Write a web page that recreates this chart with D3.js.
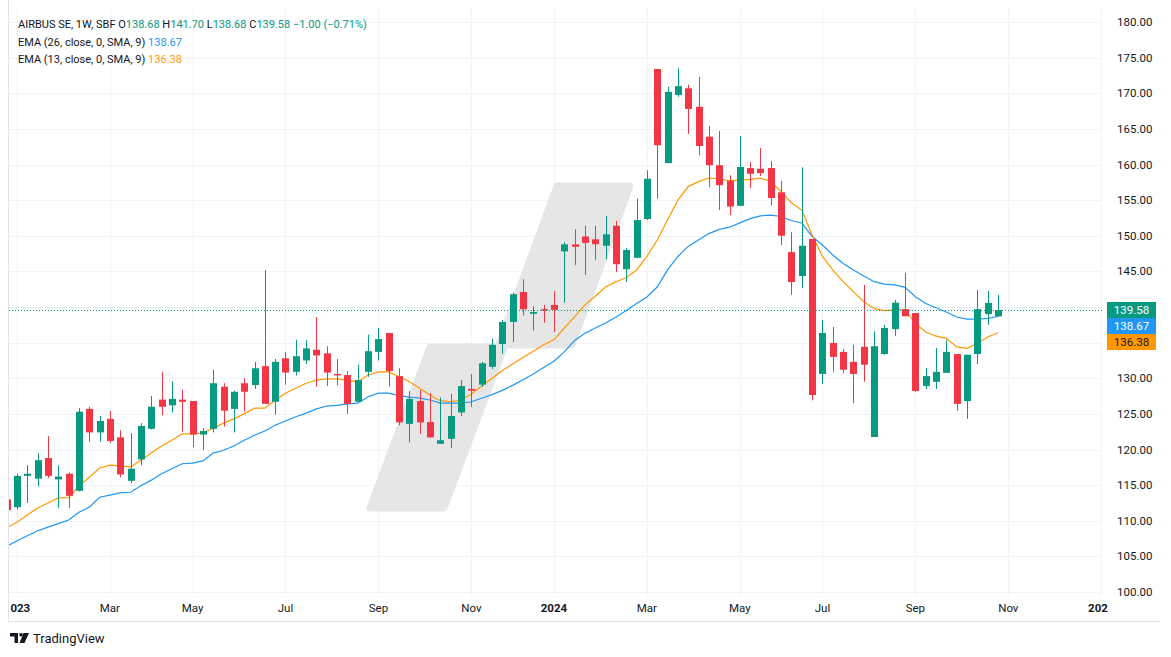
<!DOCTYPE html>
<html>
<head>
<meta charset="utf-8">
<title>AIRBUS SE, 1W</title>
<style>
  body { margin: 0; background: #fff; }
  svg text { font-family: Roboto, "Liberation Sans", sans-serif; fill: #131722; }
</style>
<script src="https://cdn.jsdelivr.net/npm/d3@7/dist/d3.min.js"></script>
</head>
<body>
<svg id="chart" width="1171" height="657"></svg>
<script>
// weekly candles, first bar = week of 26 Dec 2022
var opens  = [113.0,111.9,116.3,115.9,118.8,115.8,116.6,114.2,125.7,122.4,124.3,121.7,115.6,118.6,122.9,127.0,126.2,127.0,126.8,122.1,
              122.9,128.8,125.7,129.3,129.05,131.7,126.7,132.8,130.9,132.5,134.0,133.5,130.6,130.45,126.7,130.9,133.7,136.35,130.3,123.6,
              126.8,123.85,120.8,121.5,125.2,128.5,129.1,131.6,134.8,137.9,142.1,139.05,139.7,140.3,147.8,148.8,149.9,149.5,148.6,151.4,
              145.3,146.9,152.35,173.4,160.2,169.75,170.7,168.1,163.9,159.9,157.7,154.2,159.5,159.4,159.5,156.1,147.7,144.35,149.55,130.6,
              134.95,133.7,132.3,134.4,121.75,133.4,136.9,139.7,139.15,128.9,129.5,130.75,133.4,126.8,133.4,139.0,138.68];
var highs  = [113.2,116.6,117.8,119.5,121.9,117.8,116.8,125.8,126.0,124.7,125.4,122.7,122.3,123.7,127.5,130.9,129.6,128.4,126.8,123.0,
              131.2,129.3,128.25,130.0,132.3,145.2,132.7,133.7,135.4,135.4,138.6,134.5,132.7,131.0,131.9,136.1,137.05,136.35,131.4,128.2,
              128.35,127.9,127.3,127.8,129.75,130.6,132.3,135.5,138.2,142.0,143.9,140.1,140.3,142.25,149.1,150.9,151.4,151.4,152.8,152.1,
              148.3,155.2,159.2,173.4,170.9,173.5,171.2,172.3,165.4,164.7,158.5,164.0,160.35,162.3,160.5,157.7,150.5,159.6,149.55,138.2,
              137.2,134.1,134.7,143.1,136.6,137.5,141.0,144.8,139.15,131.4,134.25,135.4,133.4,133.3,142.4,142.25,141.70];
var lows   = [111.0,111.6,112.5,114.8,116.0,111.75,111.8,114.1,121.1,121.1,120.9,116.1,115.3,117.8,122.8,124.8,125.2,122.5,120.3,119.9,
              122.4,123.2,122.4,125.3,128.5,126.4,124.9,129.1,130.4,132.0,128.8,128.9,129.0,125.0,126.7,130.2,132.5,128.8,123.4,121.0,
              122.2,121.7,120.8,120.2,124.7,126.0,128.8,131.3,133.4,135.1,138.8,136.7,137.8,136.5,140.6,145.9,144.5,146.6,146.7,144.9,
              143.5,146.9,152.2,155.2,160.2,169.5,164.3,161.3,156.8,153.6,152.9,154.2,156.7,158.4,154.3,148.7,141.7,142.7,126.9,129.2,
              130.9,130.7,126.5,129.5,121.75,133.3,135.9,138.7,128.1,128.5,128.5,130.75,125.4,124.3,132.0,137.5,138.68];
var closes = [111.5,116.3,116.6,118.5,116.3,116.2,113.5,125.3,122.4,124.0,121.2,116.5,117.3,123.3,126.0,126.0,127.1,126.7,122.1,122.6,
              129.3,125.45,128.1,128.1,131.4,126.4,132.3,130.8,133.1,134.2,133.2,130.8,130.4,126.4,129.75,133.8,135.5,131.0,123.8,127.1,
              123.8,121.7,121.3,124.7,128.9,128.25,132.1,134.7,137.9,141.8,139.7,139.3,139.5,139.6,148.8,148.45,149.0,148.8,150.2,146.0,
              148.0,152.2,158.0,162.7,170.2,171.0,167.8,162.6,159.9,157.1,154.1,159.65,158.7,158.8,155.3,150.0,143.5,148.6,127.65,136.35,
              133.0,131.2,130.6,131.9,134.5,137.05,140.6,138.7,128.2,130.3,130.9,133.7,126.4,133.3,139.7,140.58,139.58];

// indicator lines
var ema26 = [106.4,107.2,107.9,108.6,109.1,109.6,110.1,111.2,111.9,113.3,113.6,113.9,114.0,114.9,115.7,116.6,117.3,118.0,118.1,118.4,
             119.5,119.9,120.5,121.3,122.0,122.6,123.4,124.0,124.6,125.1,125.7,126.1,126.2,126.4,126.5,127.4,127.9,127.9,127.55,127.35,
             127.2,126.95,126.5,126.5,126.5,126.7,127.2,127.7,128.3,129.0,129.8,130.6,131.5,132.4,133.7,135.3,136.3,137.05,137.75,138.6,
             139.5,140.5,141.4,142.8,145.2,147.1,148.5,149.4,150.3,150.9,151.2,151.8,152.4,152.8,152.9,152.7,152.1,151.8,149.9,148.7,
             147.3,146.1,145.2,144.35,143.55,143.2,143.1,142.75,141.45,140.5,139.9,139.3,138.6,138.3,138.3,138.4,138.67];
var ema13 = [109.0,109.8,110.8,111.8,112.5,113.2,113.25,114.9,116.1,117.4,117.8,117.7,117.55,118.5,119.5,120.5,121.3,122.2,122.2,122.3,
             123.0,123.7,124.3,125.0,125.8,125.8,126.9,127.9,128.6,129.3,129.75,129.9,129.9,129.7,129.5,130.45,130.9,130.9,130.2,129.5,
             128.6,127.6,126.85,126.7,126.95,127.8,128.9,130.0,131.1,132.0,132.9,133.8,134.7,135.4,137.05,138.6,140.3,141.5,142.8,143.55,
             144.1,145.2,147.1,149.4,152.2,155.0,156.9,157.6,158.1,158.0,157.7,157.8,157.9,158.1,157.6,156.2,154.6,153.6,150.1,147.1,
             145.2,143.55,142.15,140.75,139.8,139.5,139.6,139.6,137.7,136.5,135.9,135.6,134.4,134.2,134.9,135.8,136.38];

var priceTicks = [100,105,110,115,120,125,130,135,140,145,150,155,160,165,170,175,180];
var timeTicks  = ["2023-01-02","2023-03-06","2023-05-01","2023-07-03","2023-09-04","2023-11-06",
                  "2024-01-01","2024-03-04","2024-05-06","2024-07-01","2024-09-02","2024-11-04","2025-01-06"];
var timeLabels = ["2023","Mar","May","Jul","Sep","Nov","2024","Mar","May","Jul","Sep","Nov","2025"];

var up = "#089981", down = "#F23645", blue = "#2196F3", orange = "#FF9800";

var svg = d3.select("#chart");
var plot = {left: 9, right: 1102, top: 8, bottom: 596};

var parse = d3.timeParse("%Y-%m-%d");
var weeks = d3.timeMonday.range(parse("2022-12-26"), parse("2024-10-29"));

var x = d3.scaleTime()
	.domain([parse("2023-01-02"), parse("2024-10-28")])
	.range([17, 998]);
var y = d3.scaleLinear().domain([100, 180]).range([592, 22]);

var defs = svg.append("defs");
defs.append("clipPath").attr("id", "plotclip")
	.append("rect")
		.attr("x", plot.left).attr("y", plot.top)
		.attr("width", plot.right - plot.left).attr("height", plot.bottom - plot.top);

// grid
var grid = svg.append("g").attr("clip-path", "url(#plotclip)");
grid.selectAll(".hg").data(priceTicks).enter().append("line")
	.attr("x1", plot.left).attr("x2", plot.right)
	.attr("y1", function(d) { return Math.round(y(d)) + 0.5; })
	.attr("y2", function(d) { return Math.round(y(d)) + 0.5; })
	.attr("stroke", "#f0f3fa");
grid.selectAll(".vg").data(timeTicks).enter().append("line")
	.attr("x1", function(d) { return Math.round(x(parse(d))) + 0.5; })
	.attr("x2", function(d) { return Math.round(x(parse(d))) + 0.5; })
	.attr("y1", plot.top).attr("y2", plot.bottom)
	.attr("stroke", "#f0f3fa");

// watermark shape
grid.append("path")
	.attr("d", "M370,508 L430,347 L498,347 L557,186 L630,186 L572,345 L505,345 L444,508 Z")
	.attr("fill", "#e6e6e6")
	.attr("stroke", "#e6e6e6").attr("stroke-width", 7).attr("stroke-linejoin", "round");

var g = svg.append("g").attr("clip-path", "url(#plotclip)");

// EMA lines
var line = function(vals) {
	return d3.line()
		.x(function(d, i) { return x(weeks[i]); })
		.y(function(d) { return y(d); })(vals);
};
g.append("path").attr("d", line(ema26)).attr("fill", "none").attr("stroke", blue).attr("stroke-width", 1.2);
g.append("path").attr("d", line(ema13)).attr("fill", "none").attr("stroke", orange).attr("stroke-width", 1.2);

// candles
var candles = g.selectAll(".c").data(weeks).enter().append("g");
candles.append("line")
	.attr("x1", function(d) { return Math.round(x(d)) + 0.5; })
	.attr("x2", function(d) { return Math.round(x(d)) + 0.5; })
	.attr("y1", function(d, i) { return y(highs[i]); })
	.attr("y2", function(d, i) { return y(lows[i]); })
	.attr("stroke", function(d, i) { return closes[i] >= opens[i] ? up : down; });
candles.append("rect")
	.attr("x", function(d) { return Math.round(x(d)) - 3; })
	.attr("width", 7)
	.attr("y", function(d, i) { return y(Math.max(opens[i], closes[i])); })
	.attr("height", function(d, i) { return Math.max(1, Math.abs(y(opens[i]) - y(closes[i]))); })
	.attr("fill", function(d, i) { return closes[i] >= opens[i] ? up : down; });

// last price dotted line
var n = closes.length - 1;
var last = closes[n];
g.append("line")
	.attr("x1", plot.left).attr("x2", plot.right)
	.attr("y1", Math.round(y(last)) + 0.5).attr("y2", Math.round(y(last)) + 0.5)
	.attr("stroke", up).attr("stroke-dasharray", "1,2");

// last value tags (stacked so they do not overlap)
var tags = [[last, up, "#fff"], [ema26[n], blue, "#fff"], [ema13[n], orange, "#131722"]];
var tagY = -100, tagTop = null, tagBottom = null;
tags.forEach(function(t) {
	t.y = Math.max(Math.round(y(t[0])) - 8, tagY);
	tagY = t.y + 16;
	if (tagTop === null) tagTop = t.y;
	tagBottom = tagY;
});

// price axis, labels hidden where the tags sit
svg.selectAll(".pl").data(priceTicks.filter(function(d) {
		var py = y(d);
		return py < tagTop - 7 || py > tagBottom + 7;
	})).enter().append("text")
	.attr("x", 1117).attr("y", function(d) { return y(d); })
	.attr("dy", "0.35em")
	.style("font-size", "11.5px")
	.text(function(d) { return d3.format(".2f")(d); });

tags.forEach(function(t) {
	svg.append("rect").attr("x", 1107).attr("y", t.y).attr("width", 49).attr("height", 16).attr("fill", t[1]);
	svg.append("text").attr("x", 1131.5).attr("y", t.y + 8).attr("dy", "0.35em")
		.attr("text-anchor", "middle").style("font-size", "11.5px").style("fill", t[2])
		.text(d3.format(".2f")(t[0]));
});

// time axis
defs.append("clipPath").attr("id", "xclip")
	.append("rect").attr("x", plot.left + 1).attr("y", 596).attr("width", plot.right - plot.left + 5).attr("height", 24);
svg.append("g").attr("clip-path", "url(#xclip)")
	.selectAll(".tl").data(timeTicks).enter().append("text")
	.attr("x", function(d) { return x(parse(d)); })
	.attr("y", 612)
	.attr("text-anchor", "middle")
	.style("font-size", "11.5px")
	.style("font-weight", function(d, i) { return /^\d/.test(timeLabels[i]) ? "bold" : "normal"; })
	.text(function(d, i) { return timeLabels[i]; });

// legend
var lg = svg.append("g").style("font-size", "11px");
var l1 = lg.append("text").attr("x", 18).attr("y", 28).attr("xml:space", "preserve");
var chg = closes[n] - closes[n - 1];
var parts = [["AIRBUS SE, 1W, SBF O", "#131722"], [d3.format(".2f")(opens[n]), up], [" H", "#131722"], [d3.format(".2f")(highs[n]), up],
	[" L", "#131722"], [d3.format(".2f")(lows[n]), up], [" C", "#131722"], [d3.format(".2f")(closes[n]), up],
	[" " + d3.format(".2f")(chg).replace("-", "\u2212") + " (" + d3.format(".2f")(chg / closes[n - 1] * 100).replace("-", "\u2212") + "%)", up]];
parts.forEach(function(p) { l1.append("tspan").style("fill", p[1]).text(p[0]); });
var l2 = lg.append("text").attr("x", 18).attr("y", 46).attr("xml:space", "preserve");
l2.append("tspan").text("EMA (26, close, 0, SMA, 9) ");
l2.append("tspan").style("fill", blue).text(d3.format(".2f")(ema26[n]));
var l3 = lg.append("text").attr("x", 18).attr("y", 63).attr("xml:space", "preserve");
l3.append("tspan").text("EMA (13, close, 0, SMA, 9) ");
l3.append("tspan").style("fill", orange).text(d3.format(".2f")(ema13[n]));

// frame
svg.append("line").attr("x1", 8.5).attr("x2", 8.5).attr("y1", 0).attr("y2", 621).attr("stroke", "#e0e3eb");
svg.append("line").attr("x1", 8).attr("x2", 1160).attr("y1", 621.5).attr("y2", 621.5).attr("stroke", "#e0e3eb");

// TradingView logo
var logo = svg.append("g").attr("transform", "translate(10,633)");
logo.append("path").attr("d", "M0,0 H8 V10 H4.5 V3.5 H0 Z M13.5,0 H19 L14.5,10 H9.5 Z").attr("fill", "#131722");
logo.append("circle").attr("cx", 11).attr("cy", 1.8).attr("r", 1.8).attr("fill", "#131722");
svg.append("text").attr("x", 33).attr("y", 643).style("font-size", "13px").text("TradingView");
</script>
</body>
</html>
